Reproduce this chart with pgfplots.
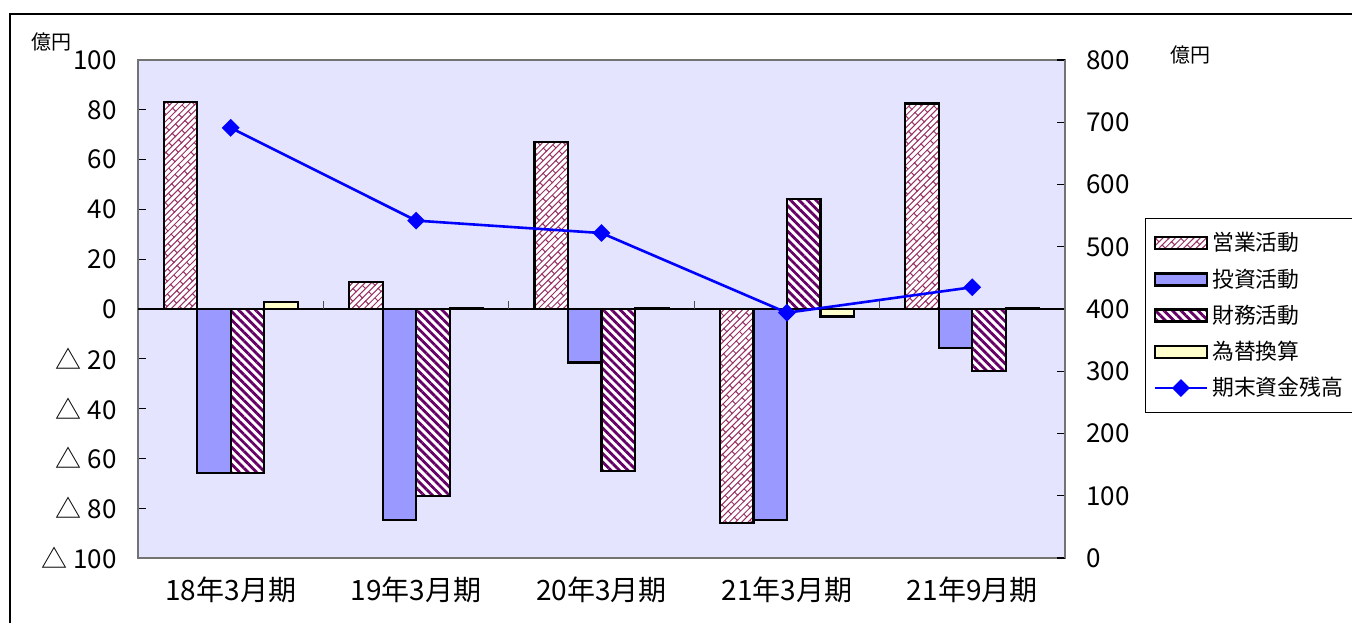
\documentclass[border=0pt]{standalone}
\usepackage{pgfplots}
\pgfplotsset{compat=1.18}
\usepackage{fontspec}
\setmainfont{Noto Sans CJK JP}
\usetikzlibrary{patterns,patterns.meta}
\definecolor{brick}{RGB}{153,51,102}
\definecolor{plum}{RGB}{102,0,102}
\definecolor{invblue}{RGB}{153,153,255}
\definecolor{fxyellow}{RGB}{255,255,204}
\definecolor{bgpurple}{RGB}{228,228,255}
\pgfdeclarepattern{
  name=diagbrick,
  type=uncolored,
  bottom left={\pgfpoint{-1pt}{-1pt}},
  top right={\pgfpoint{10pt}{5.4pt}},
  tile size={\pgfpoint{9pt}{4.4pt}},
  tile transformation={\pgftransformrotate{45}},
  code={
    \pgfsetlinewidth{0.5pt}
    \pgfpathmoveto{\pgfpoint{-0.5pt}{0pt}}\pgfpathlineto{\pgfpoint{9.5pt}{0pt}}
    \pgfpathmoveto{\pgfpoint{-0.5pt}{2.2pt}}\pgfpathlineto{\pgfpoint{9.5pt}{2.2pt}}
    \pgfpathmoveto{\pgfpoint{0pt}{0pt}}\pgfpathlineto{\pgfpoint{0pt}{2.2pt}}
    \pgfpathmoveto{\pgfpoint{4.5pt}{2.2pt}}\pgfpathlineto{\pgfpoint{4.5pt}{4.4pt}}
    \pgfusepath{stroke}
  }
}
\pgfplotsset{
  mybarlegend/.style={legend image code/.code={\draw[##1,/tikz/.cd] (0pt,-3pt) rectangle (26pt,3pt);}},
  mylinelegend/.style={legend image code/.code={\draw[mark repeat=2,mark phase=2,##1,/tikz/.cd,sharp plot] plot coordinates {(0pt,0pt)(13pt,0pt)(26pt,0pt)};}},
}
\pgfplotstableread{
x op inv fin fx
0 83.0 -66.0 -66.0 2.7
1 11.0 -84.8 -75.0 0.4
2 67.0 -21.5 -65.0 0.3
3 -85.8 -84.8 44.3 -3.0
4 82.5 -15.5 -25.0 0.5
}\cfdata
\pgfplotstableread{
x bal
0 691
1 542
2 522
3 394
4 435
}\baldata
\begin{document}
\begin{tikzpicture}
\useasboundingbox (0,0) rectangle (676pt,311.5pt);
\draw[line width=0.75pt] (5pt,0pt) -- (5pt,304.5pt) -- (680pt,304.5pt);
\node[font=\fontsize{10}{11}\selectfont] at (26pt,290.7pt) {億円};
\node[font=\fontsize{10}{11}\selectfont] at (595pt,284pt) {億円};
\begin{axis}[
  at={(69pt,32.5pt)}, anchor=south west,
  scale only axis, width=463.5pt, height=249pt,
  xmin=-0.5, xmax=4.5, ymin=-100, ymax=100,
  ybar=0pt, bar width=16.75pt,
  axis background/.style={fill=bgpurple},
  axis line style={draw=black!55, line width=0.8pt},
  xtick={0,1,2,3,4},
  xticklabels={18年3月期,19年3月期,20年3月期,21年3月期,21年9月期},
  xtick style={draw=none},
  xticklabel style={font=\fontsize{14}{15}\selectfont, inner sep=0pt, yshift=-9pt},
  ytick={-100,-80,...,100},
  ytick pos=left,
  yticklabels={△ 100,△ 80,△ 60,△ 40,△ 20,0,20,40,60,80,100},
  yticklabel style={font=\fontsize{13}{14}\selectfont, inner sep=0pt, xshift=-10.5pt},
  ytick style={draw=black, line width=0.6pt},
  tick align=inside, major tick length=4pt,
  legend cell align=left,
  legend style={at={(1.0863,0.6827)}, anchor=north west, draw=black, fill=white,
    font=\fontsize{10.9}{12}\selectfont, row sep=3.4pt, inner xsep=4pt, inner ysep=5pt,
    line width=0.6pt},
]
\draw[black, line width=0.6pt] (axis cs:-0.5,0) -- (axis cs:4.5,0);
\draw[black!70, line width=0.6pt] (axis cs:0.5,0) -- ++(0pt,4pt);
\draw[black!70, line width=0.6pt] (axis cs:1.5,0) -- ++(0pt,4pt);
\draw[black!70, line width=0.6pt] (axis cs:2.5,0) -- ++(0pt,4pt);
\draw[black!70, line width=0.6pt] (axis cs:3.5,0) -- ++(0pt,4pt);
\addplot[mybarlegend, draw=black, line width=1.1pt, preaction={fill=white}, pattern=diagbrick, pattern color=brick] table[x=x,y=op] {\cfdata};
\addlegendentry{営業活動}
\addplot[mybarlegend, draw=black, line width=1.1pt, fill=invblue] table[x=x,y=inv] {\cfdata};
\addlegendentry{投資活動}
\addplot[mybarlegend, draw=black, line width=1.1pt, preaction={fill=white}, pattern={Lines[angle=-45,distance=3pt,line width=1.4pt]}, pattern color=plum] table[x=x,y=fin] {\cfdata};
\addlegendentry{財務活動}
\addplot[mybarlegend, draw=black, line width=1.1pt, fill=fxyellow] table[x=x,y=fx] {\cfdata};
\addlegendentry{為替換算}
\addlegendimage{mylinelegend, blue, line width=1.3pt, mark=square*, mark size=2.5pt, mark options={rotate=45}}
\addlegendentry{期末資金残高}
\end{axis}
\begin{axis}[
  at={(69pt,32.5pt)}, anchor=south west,
  scale only axis, width=463.5pt, height=249pt,
  xmin=-0.5, xmax=4.5, ymin=0, ymax=800,
  axis y line*=right, axis x line=none,
  axis line style={draw=black!55, line width=0.8pt},
  ytick={0,100,...,800},
  yticklabels={0,100,200,300,400,500,600,700,800},
  yticklabel style={font=\fontsize{13}{14}\selectfont, inner sep=0pt, xshift=10.5pt},
  ytick style={draw=black, line width=0.6pt},
  tick align=inside, major tick length=4pt,
]
\addplot[blue, line width=1.3pt, mark=square*, mark size=2.5pt, mark options={rotate=45}] table[x=x,y=bal] {\baldata};
\end{axis}
\end{tikzpicture}
\end{document}
